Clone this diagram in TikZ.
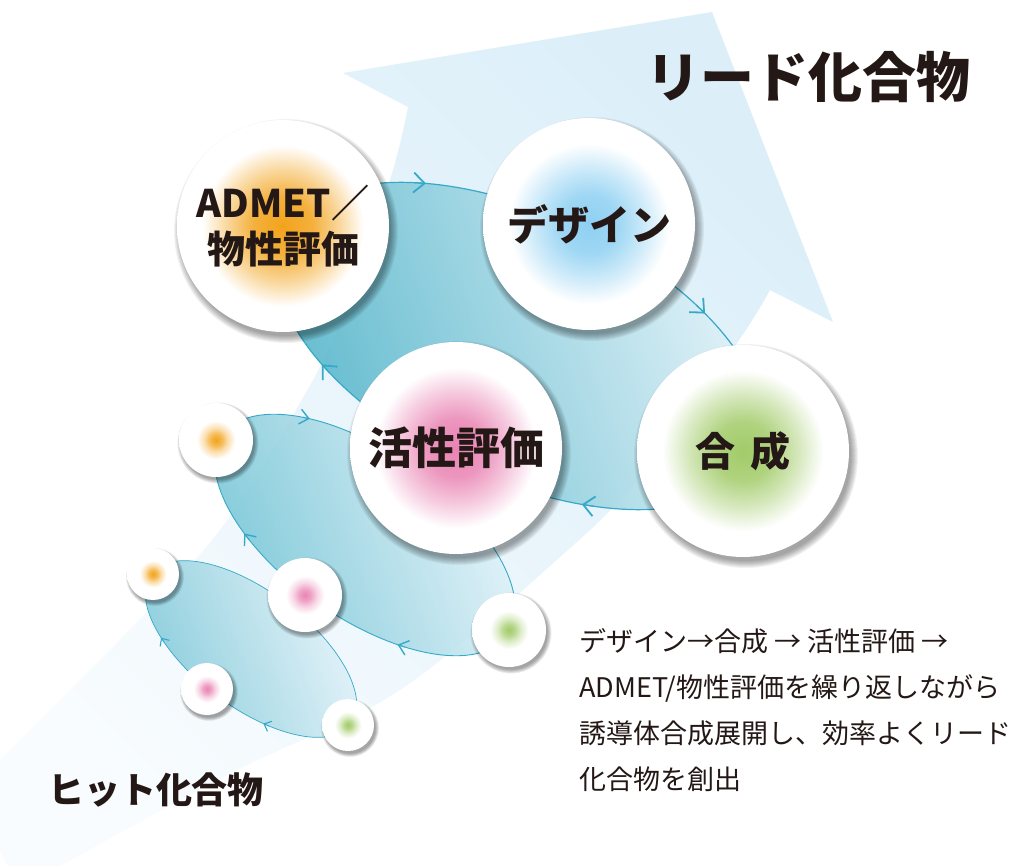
\documentclass[tikz,border=0pt]{standalone}
\usepackage{fontspec}
\newfontfamily\jp{Noto Sans CJK JP}
\usetikzlibrary{arrows.meta}
\definecolor{ink}{HTML}{231815}
\definecolor{bandHi}{HTML}{DCEFF9}
\definecolor{bandLo}{HTML}{F8FCFE}
\definecolor{ellDark}{HTML}{4AB1C7}
\definecolor{ellLight}{HTML}{E4F3F9}
\definecolor{ellDarkB}{HTML}{6EC2D4}
\definecolor{ellDarkC}{HTML}{7CC7D8}
\definecolor{ringc}{HTML}{35A9C8}
\definecolor{cOr}{HTML}{F2A31B}
\definecolor{cBl}{HTML}{8ED0F2}
\definecolor{cGr}{HTML}{A2CB69}
\definecolor{cPk}{HTML}{E984B3}
\pgfdeclareradialshading{glowO}{\pgfpointorigin}{color(0bp)=(cOr); color(7bp)=(cOr!85!white); color(13bp)=(cOr!45!white); color(19bp)=(white); color(50bp)=(white)}
\pgfdeclareradialshading{glowB}{\pgfpointorigin}{color(0bp)=(cBl); color(7bp)=(cBl!85!white); color(13bp)=(cBl!45!white); color(19bp)=(white); color(50bp)=(white)}
\pgfdeclareradialshading{glowG}{\pgfpointorigin}{color(0bp)=(cGr); color(7bp)=(cGr!85!white); color(13bp)=(cGr!45!white); color(19bp)=(white); color(50bp)=(white)}
\pgfdeclareradialshading{glowP}{\pgfpointorigin}{color(0bp)=(cPk); color(7bp)=(cPk!85!white); color(13bp)=(cPk!45!white); color(19bp)=(white); color(50bp)=(white)}
\pgfdeclareradialshading{dotO}{\pgfpointorigin}{color(0bp)=(cOr); color(4bp)=(cOr!75!white); color(8bp)=(cOr!35!white); color(13bp)=(white); color(50bp)=(white)}
\pgfdeclareradialshading{dotG}{\pgfpointorigin}{color(0bp)=(cGr); color(4bp)=(cGr!75!white); color(8bp)=(cGr!35!white); color(13bp)=(white); color(50bp)=(white)}
\pgfdeclareradialshading{dotP}{\pgfpointorigin}{color(0bp)=(cPk); color(4bp)=(cPk!75!white); color(8bp)=(cPk!35!white); color(13bp)=(white); color(50bp)=(white)}
\newcommand\softshadow[5]{\foreach \k in {1,...,8}{\fill[black,opacity=0.05] ([shift={(#4,#5)}]#1) circle ({#2+#3*(7-\k)});}}
\tikzset{
  bubble/.style={circle, inner sep=0pt, minimum size=#1, shade, draw=none, text=ink, align=center},
  bigtxt/.style={font=\jp\bfseries\fontsize{#1}{#1}\selectfont, text=ink},
  bodytxt/.style={font=\jp\fontsize{27}{27}\selectfont, text=ink, anchor=base west, inner sep=0pt},
  ringA/.style={draw=ringc, line width=1.2pt},
  ringB/.style={draw=ringc, line width=0.9pt},
  ringC/.style={draw=ringc, line width=0.7pt},
  tipA/.style={ringc, line width=1.2pt, -{Straight Barb[length=11pt,width=20pt,line width=1.8pt]}},
  tipB/.style={ringc, line width=0.9pt, -{Straight Barb[length=9pt,width=15pt,line width=1.4pt]}},
  tipC/.style={ringc, line width=0.7pt, -{Straight Barb[length=6pt,width=11pt,line width=1.1pt]}},
}
\begin{document}
\begin{tikzpicture}[x=1pt,y=-1pt,
  declare function={
    ex(\t,\cx,\a,\b,\th)=\cx+\a*cos(\t)*cos(\th)-\b*sin(\t)*sin(\th);
    ey(\t,\cy,\a,\b,\th)=\cy+\a*cos(\t)*sin(\th)+\b*sin(\t)*cos(\th);
  }]
\useasboundingbox (0,0) rectangle (1023,866);
\fill[white] (0,0) rectangle (1023,866);
% big arrow band
\begin{scope}
\clip (0,0) rectangle (1023,866);
\shade[bottom color=bandLo, top color=bandHi, shading angle=-45]
  plot[smooth,tension=0.55] coordinates {(-30,790) (0,760) (120,640) (220,530) (290,420) (337,330) (390,180) (408,107)}
  -- (343,73) -- (712,12) -- (833,322)
  -- plot[smooth,tension=0.55] coordinates {(770,290) (737,343) (640,477) (560,557) (400,690) (233,772) (67,862) (20,890)} -- cycle;
\end{scope}
% cycle ellipses (fills)
\shade[bottom color=ellDarkC, top color=ellLight, shading angle=-70, fill opacity=0.85]
  plot[domain=0:360,samples=145] ({ex(\x,251,125,58,37)},{ey(\x,649,125,58,37)}) -- cycle;
\shade[bottom color=ellDarkB, top color=ellLight, shading angle=-70, fill opacity=0.85]
  plot[domain=0:360,samples=145] ({ex(\x,365,174,83,35)},{ey(\x,535,174,83,35)}) -- cycle;
\shade[bottom color=ellDark, top color=ellLight, shading angle=-70, fill opacity=0.85]
  plot[domain=0:360,samples=181] ({ex(\x,520,262,133,25)},{ey(\x,346,262,133,25)}) -- cycle;
% cycle lines
\draw[ringC] plot[domain=0:360,samples=145] ({ex(\x,251,125,58,37)},{ey(\x,649,125,58,37)}) -- cycle;
\draw[ringB] plot[domain=0:360,samples=145] ({ex(\x,365,174,83,35)},{ey(\x,535,174,83,35)}) -- cycle;
\draw[ringA] plot[domain=0:360,samples=181] ({ex(\x,520,262,133,25)},{ey(\x,346,262,133,25)}) -- cycle;
\foreach \t in {234,306,62,131}{
  \draw[tipA] ({ex(\t-3,520,262,133,25)},{ey(\t-3,346,262,133,25)}) -- ({ex(\t,520,262,133,25)},{ey(\t,346,262,133,25)});}
\foreach \t in {230,125,59}{
  \draw[tipB] ({ex(\t-3,365,174,83,35)},{ey(\t-3,535,174,83,35)}) -- ({ex(\t,365,174,83,35)},{ey(\t,535,174,83,35)});}
\foreach \t in {129,64}{
  \draw[tipC] ({ex(\t-3,251,125,58,37)},{ey(\t-3,649,125,58,37)}) -- ({ex(\t,251,125,58,37)},{ey(\t,649,125,58,37)});}
% circle centres
\coordinate (cA) at (283,226);
\coordinate (cD) at (589,224);
\coordinate (cS) at (743,451);
\coordinate (cK) at (456,448);
\coordinate (o1) at (216,440);
\coordinate (p1) at (305,595);
\coordinate (g1) at (509,630);
\coordinate (o2) at (153,574);
\coordinate (p2) at (207,689);
\coordinate (g2) at (348,725);
% shadows
\softshadow{cA}{106}{1}{3}{5}
\softshadow{cD}{106}{1}{3}{5}
\softshadow{cS}{106}{1}{3}{5}
\softshadow{cK}{106}{1}{3}{5}
\softshadow{o1}{37}{0.6}{2}{3}
\softshadow{p1}{37}{0.6}{2}{3}
\softshadow{g1}{37}{0.6}{2}{3}
\softshadow{o2}{26}{0.5}{2}{3}
\softshadow{p2}{26}{0.5}{2}{3}
\softshadow{g2}{26}{0.5}{2}{3}
% circles
\node[bubble=212, shading=glowO, font=\jp\bfseries\fontsize{38}{46}\selectfont] (admet) at (cA) {ADMET／\\物性評価};
\node[bubble=212, shading=glowB, bigtxt=41] (design) at (cD) {デザイン};
\node[bubble=212, shading=glowG, bigtxt=40] (synth) at (cS) {合\hspace{0.4em}成};
\node[bubble=212, shading=glowP, bigtxt=44] (assay) at (cK) {活性評価};
\node[bubble=74, shading=dotO] (so1) at (o1) {};
\node[bubble=74, shading=dotP] (sp1) at (p1) {};
\node[bubble=74, shading=dotG] (sg1) at (g1) {};
\node[bubble=52, shading=dotO] (so2) at (o2) {};
\node[bubble=52, shading=dotP] (sp2) at (p2) {};
\node[bubble=52, shading=dotG] (sg2) at (g2) {};
% titles
\node[bigtxt=54] (lead) at (808,77) {リード化合物};
\node[bigtxt=36] (hit) at (156,790) {ヒット化合物};
% description
\node[bodytxt] (d1) at (579,651) {デザイン→合成 → 活性評価 →};
\node[bodytxt] (d2) at (579,697) {ADMET/物性評価を繰り返しながら};
\node[bodytxt] (d3) at (579,743) {誘導体合成展開し、効率よくリード};
\node[bodytxt] (d4) at (579,789) {化合物を創出};
\end{tikzpicture}
\end{document}
